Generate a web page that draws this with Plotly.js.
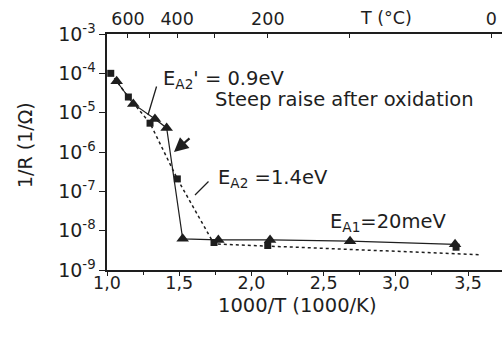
<!DOCTYPE html>
<html>
<head>
<meta charset="utf-8">
<script src="https://cdn.plot.ly/plotly-3.0.1.min.js"></script>
<style>html,body{margin:0;padding:0;background:#fff;}#chart{width:502px;height:340px;}</style>
</head>
<body>
<div id="chart"></div>
<script>
// Squares (before oxidation)
var squareX = [1.026, 1.148, 1.298, 1.487, 1.741, 2.113, 3.417];
var squareY = [1.0e-4, 2.5e-5, 5.4e-6, 2.07e-7, 5.0e-9, 4.2e-9, 3.8e-9];
// Dotted fit line through squares
var fitX = [1.026, 1.148, 1.298, 1.487, 1.741, 3.583];
var fitY = [1.0e-4, 2.5e-5, 5.4e-6, 2.07e-7, 4.6e-9, 2.45e-9];
// Triangles (after oxidation)
var triX = [1.067, 1.182, 1.332, 1.413, 1.524, 1.771, 2.129, 2.683, 3.41];
var triY = [6.3e-5, 1.67e-5, 6.9e-6, 4.1e-6, 6.2e-9, 5.8e-9, 5.8e-9, 5.4e-9, 4.5e-9];
// Axis ticks
var xTickVals = [1.0, 1.5, 2.0, 2.5, 3.0, 3.5];
var xTickText = ["1,0", "1,5", "2,0", "2,5", "3,0", "3,5"];
var yTickVals = [1e-9, 1e-8, 1e-7, 1e-6, 1e-5, 1e-4, 1e-3];
var yTickText = ["10<sup>-9</sup>", "10<sup>-8</sup>", "10<sup>-7</sup>", "10<sup>-6</sup>", "10<sup>-5</sup>", "10<sup>-4</sup>", "10<sup>-3</sup>"];
var topTempC = [600, 500, 400, 300, 200, 100, 0];
var topTickText = ["600", "", "400", "", "200", "", "0"];

var topTickVals = topTempC.map(function (t) { return 1000 / (t + 273.15); });
var FONT = "DejaVu Sans, sans-serif";
var INK = "#1e1e1e";
var W = 502, H = 340, ML = 107, MT = 34, MB = 70, MR = 0;
var pw = W - ML - MR, ph = H - MT - MB;
function px(x) { return (x - ML) / pw; }
function py(y) { return (H - MB - y) / ph; }

var traces = [
  { x: fitX, y: fitY, mode: "lines", line: { color: INK, width: 1.5, dash: "dot" }, hoverinfo: "skip", showlegend: false },
  { x: triX, y: triY, mode: "lines+markers", line: { color: INK, width: 1.2 },
    marker: { symbol: "triangle-up", size: 11, color: INK }, showlegend: false },
  { x: squareX, y: squareY, mode: "markers", marker: { symbol: "square", size: 7, color: INK }, showlegend: false },
  { x: topTickVals, y: topTickVals.map(function () { return null; }), xaxis: "x2", mode: "lines", hoverinfo: "skip", showlegend: false }
];

var ann = function (text, x, y, opts) {
  var a = { text: text, xref: "paper", yref: "paper", x: px(x), y: py(y), showarrow: false,
            xanchor: "left", yanchor: "middle", font: { family: FONT, size: 19.5, color: INK } };
  for (var k in (opts || {})) a[k] = opts[k];
  return a;
};

var layout = {
  width: W, height: H,
  margin: { l: ML, r: MR, t: MT, b: MB, pad: 0 },
  paper_bgcolor: "#ffffff", plot_bgcolor: "#ffffff",
  font: { family: FONT, color: INK, size: 17 },
  xaxis: {
    range: [1.0, 3.735], showgrid: false, zeroline: false, showline: true, linecolor: INK, linewidth: 1.6,
    tickmode: "array", tickvals: xTickVals, ticktext: xTickText, ticks: "outside", ticklen: 4, tickcolor: INK,
    minor: { tickmode: "linear", tick0: 1.0, dtick: 0.25, ticks: "outside", ticklen: 3, tickcolor: INK },
    tickfont: { family: FONT, size: 17.5, color: INK }, ticklabelstandoff: -8
  },
  xaxis2: {
    overlaying: "x", side: "top", range: [1.0, 3.735], showgrid: false, zeroline: false, showline: true,
    linecolor: INK, linewidth: 1.6, tickmode: "array", tickvals: topTickVals, ticktext: topTickText,
    ticks: "inside", ticklen: 4, tickcolor: INK, tickfont: { family: FONT, size: 17.5, color: INK }
  },
  yaxis: {
    type: "log", range: [-9, -3], showgrid: false, zeroline: false, showline: true, linecolor: INK, linewidth: 1.6,
    tickmode: "array", tickvals: yTickVals, ticktext: yTickText, ticks: "outside", ticklen: 6, tickcolor: INK,
    tickfont: { family: FONT, size: 19, color: INK }
  },
  annotations: [
    ann("1/R (1/Ω)", 25, 145, { textangle: -90, xanchor: "center", font: { family: FONT, size: 19, color: INK } }),
    ann("1000/T (1000/K)", 297, 305, { xanchor: "center", font: { family: FONT, size: 19.5, color: INK } }),
    ann("T (°C)", 386, 18, { xanchor: "center", font: { family: FONT, size: 17.5, color: INK } }),
    ann("E<sub>A2</sub>' = 0.9eV", 161, 79),
    ann("Steep raise after oxidation", 213, 99),
    ann("E<sub>A2</sub> =1.4eV", 216, 179),
    ann("E<sub>A1</sub>=20meV", 328, 222),
    // leader lines and arrow
    { xref: "paper", yref: "paper", x: px(148), y: py(115), ax: 9, ay: -30, text: "", showarrow: true,
      arrowhead: 0, arrowwidth: 1.3, arrowcolor: INK },
    { xref: "paper", yref: "paper", x: px(195), y: py(195), ax: 15, ay: -15, text: "", showarrow: true,
      arrowhead: 0, arrowwidth: 1.3, arrowcolor: INK },
    { xref: "paper", yref: "paper", x: px(174), y: py(152), ax: 17, ay: -15, text: "", showarrow: true,
      arrowhead: 2, arrowsize: 1.3, arrowwidth: 2.2, arrowcolor: INK }
  ]
};

Plotly.newPlot("chart", traces, layout, { staticPlot: true });
</script>
</body>
</html>
